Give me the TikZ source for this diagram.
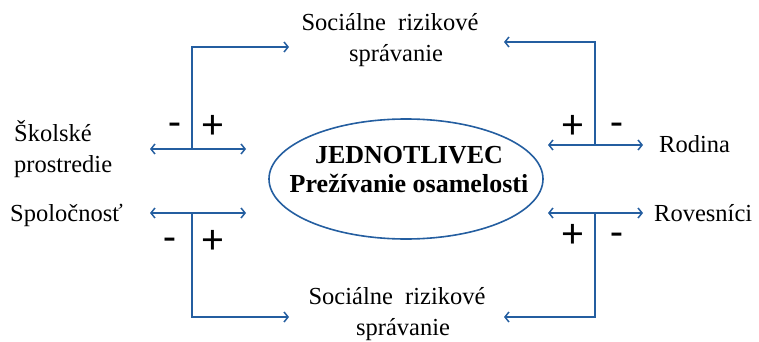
\documentclass[tikz,border=0pt]{standalone}
\usepackage{fontspec}
\setmainfont{Liberation Serif}
\newfontfamily\signfont{Carlito}
\usetikzlibrary{arrows.meta,shapes.geometric}
\definecolor{arrblue}{RGB}{36,94,160}
\begin{document}
\begin{tikzpicture}[x=1pt,y=-1pt,
  conn/.style={draw=arrblue, line width=1.5pt, -{Straight Barb[length=4pt,width=10pt]}},
  twoway/.style={draw=arrblue, line width=1.5pt, {Straight Barb[length=4pt,width=10pt]}-{Straight Barb[length=4pt,width=10pt]}},
  lbl/.style={font=\fontsize{24.5}{31}\selectfont, inner sep=0pt},
  ctext/.style={font=\fontsize{26}{29}\bfseries\selectfont, align=center, inner sep=0pt},
  sgn/.style={font=\signfont\fontsize{42}{42}\selectfont, inner sep=0pt, anchor=base}]
\useasboundingbox (0,0) rectangle (759,342);
% central ellipse
\node[draw=arrblue, line width=1.6pt, ellipse, minimum width=274, minimum height=120] (ind) at (406,179) {};
\node[ctext, anchor=base] (indtxt) at (409,192) {JEDNOTLIVEC\\Prežívanie osamelosti};
% labels
\node[lbl, align=center, anchor=base] (srtop) at (390,62) {Sociálne\ \ rizikové\\\hspace*{12pt}správanie};
\node[lbl, align=center, anchor=base] (srbot) at (397,335) {Sociálne\ \ rizikové\\\hspace*{12pt}správanie};
\node[lbl, align=left, anchor=base west] (skol) at (14,172) {Školské\\prostredie};
\node[lbl, anchor=base west] (spol) at (10,221) {Spoločnosť};
\node[lbl, anchor=base west] (rod) at (659,152) {Rodina};
\node[lbl, anchor=base west] (rov) at (654,221) {Rovesníci};
% junctions and ends
\coordinate (jtl) at (192,149);
\coordinate (jtr) at (595,145);
\coordinate (jbl) at (192,213);
\coordinate (jbr) at (595,213);
\coordinate (tlL) at (150,149); \coordinate (tlR) at (246,149); \coordinate (tlT) at (289,47);
\coordinate (trL) at (548,145); \coordinate (trR) at (643,145); \coordinate (trT) at (504,42);
\coordinate (blL) at (150,213); \coordinate (blR) at (246,213); \coordinate (blB) at (289,317);
\coordinate (brL) at (548,213); \coordinate (brR) at (643,213); \coordinate (brB) at (504,317);
% connectors
\draw[twoway] (tlL) -- (tlR);
\draw[conn] (jtl) |- (tlT);
\draw[twoway] (trL) -- (trR);
\draw[conn] (jtr) |- (trT);
\draw[twoway] (blL) -- (blR);
\draw[conn] (jbl) |- (blB);
\draw[twoway] (brL) -- (brR);
\draw[conn] (jbr) |- (brB);
% signs
\node[sgn] (stlm) at (175,136) {-};
\node[sgn] (stlp) at (213,138) {+};
\node[sgn] (strp) at (573,138) {+};
\node[sgn] (strm) at (617,136) {-};
\node[sgn] (sblm) at (170,251) {-};
\node[sgn] (sblp) at (213,253) {+};
\node[sgn] (sbrp) at (573,247) {+};
\node[sgn] (sbrm) at (617,246) {-};
\end{tikzpicture}
\end{document}
